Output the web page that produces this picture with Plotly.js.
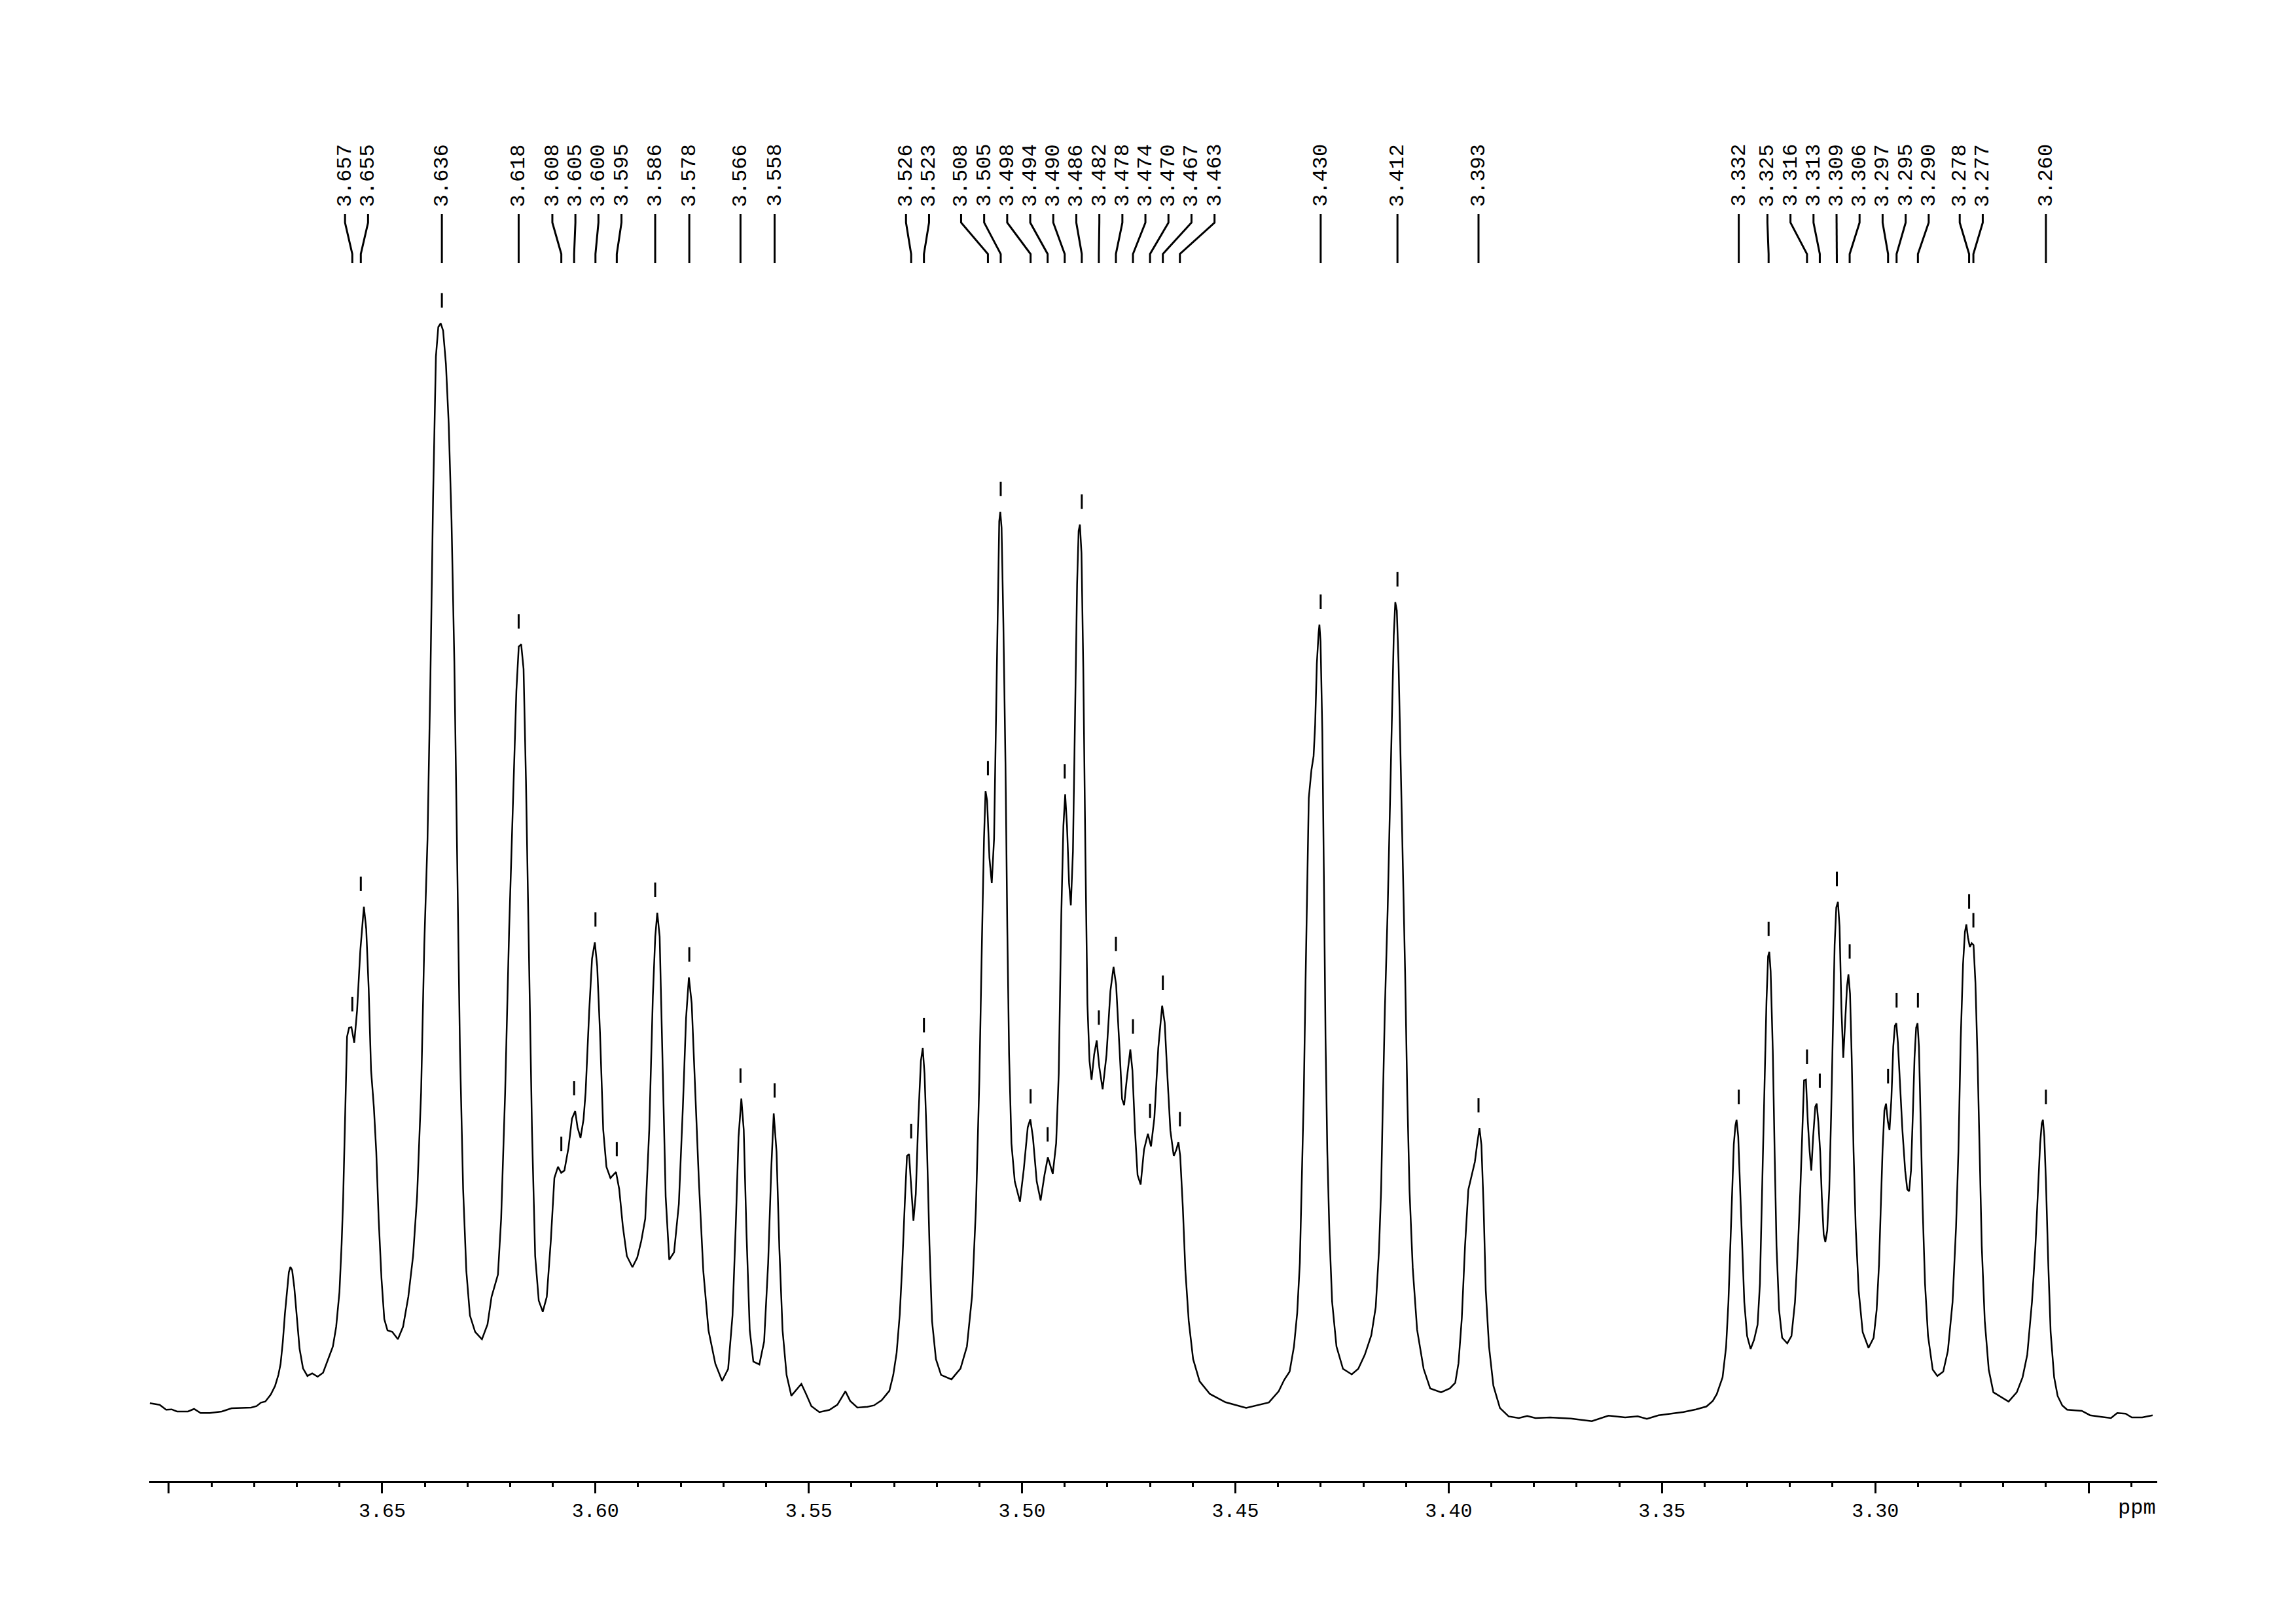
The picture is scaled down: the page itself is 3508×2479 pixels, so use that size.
<!DOCTYPE html>
<html><head><meta charset="utf-8">
<script src="https://cdn.plot.ly/plotly-3.0.1.min.js"></script>
<style>body{margin:0;background:#fff}</style>
</head><body><div id="chart" style="width:3508px;height:2479px"></div>
<script>
// ---- data ----
const ppm = [
3.70446,3.70216,3.70063,3.69935,3.69808,3.69552,3.69409,3.69256,3.69041,3.68760,3.68530,3.68071,3.67943,3.67841,3.67738,3.67611,3.67509,3.67432,3.67381,3.67329,3.67279,3.67228,3.67187,3.67151,3.67110,3.67059,3.66998,3.66936,3.66855,3.66752,3.66640,3.66512,3.66385,3.66257,3.66155,3.66078,3.66001,3.65950,3.65915,
3.65823,3.65776,3.65720,3.65654,3.65588,3.65513,3.65428,3.65373,3.65316,3.65260,3.65194,3.65138,3.65082,3.65016,3.64950,3.64875,3.64763,3.64631,3.64509,3.64387,3.64275,3.64181,3.64087,3.64012,3.63937,3.63871,3.63806,3.63740,3.63684,3.63627,3.63571,3.63505,3.63440,3.63374,3.63308,3.63243,3.63177,3.63102,3.63027,3.62942,3.62820,3.62661,3.62530,3.62436,3.62361,3.62286,3.62211,3.62117,3.62023,3.61929,3.61854,3.61798,3.61741,3.61685,3.61629,3.61563,3.61488,3.61413,3.61329,3.61235,3.61141,3.61047,3.60963,3.60878,3.60803,3.60728,3.60634,3.60550,3.60475,3.60420,3.60350,3.60280,3.60231,3.60146,3.60080,3.60015,3.59959,3.59893,3.59818,3.59743,3.59649,3.59518,3.59443,3.59358,3.59264,3.59133,3.59020,3.58927,3.58833,3.58739,3.58654,3.58598,3.58551,3.58495,3.58429,3.58354,3.58270,3.58157,3.58045,3.57951,3.57876,3.57810,3.57744,3.57669,3.57575,3.57472,3.57350,3.57190,3.57031,3.56890,3.56787,3.56712,3.56646,3.56580,3.56524,3.56459,3.56383,3.56299,3.56158,3.56046,3.55952,3.55877,3.55821,3.55755,3.55689,3.55614,3.55520,3.55408,3.55295,3.55173,3.55061,3.54939,3.54751,3.54516,3.54329,3.54141,3.54028,3.53859,3.53625,
3.53473,3.53292,3.53110,3.53019,3.52940,3.52867,3.52807,3.52746,3.52698,3.52649,3.52601,3.52546,3.52491,3.52431,3.52371,3.52328,3.52286,3.52231,3.52170,3.52110,3.52019,3.51898,3.51655,3.51443,3.51292,3.51171,3.51080,3.51001,3.50940,3.50892,3.50856,3.50819,3.50765,3.50710,3.50656,3.50613,3.50571,3.50535,3.50510,3.50480,3.50438,3.50389,3.50346,3.50304,3.50249,3.50171,3.50049,3.49958,3.49867,3.49807,3.49746,3.49656,3.49565,3.49474,3.49395,3.49341,3.49280,3.49201,3.49140,3.49080,3.49031,3.48989,3.48946,3.48898,3.48856,3.48807,3.48759,3.48710,3.48674,3.48644,3.48607,3.48565,3.48516,3.48468,3.48419,3.48371,3.48310,3.48250,3.48189,3.48111,3.48020,3.47929,3.47856,3.47795,3.47716,3.47656,3.47607,3.47547,3.47462,3.47413,3.47353,3.47292,3.47220,3.47141,3.47050,3.46977,3.46898,3.46807,3.46716,3.46656,3.46596,3.46523,3.46444,3.46383,3.46335,3.46293,3.46232,3.46172,3.46093,3.45990,3.45838,3.45596,3.45232,3.44747,
3.44214,3.43984,3.43856,3.43728,3.43626,3.43550,3.43488,3.43437,3.43396,3.43355,3.43320,3.43279,3.43217,3.43166,3.43130,3.43090,3.43049,3.43029,3.43003,3.42962,3.42926,3.42886,3.42845,3.42794,3.42732,3.42630,3.42477,3.42272,3.42119,3.41966,3.41813,3.41710,3.41634,3.41583,3.41547,3.41496,3.41430,3.41378,3.41327,3.41287,3.41251,3.41215,3.41174,3.41123,3.41072,3.41021,3.40970,3.40918,3.40842,3.40740,3.40587,3.40433,3.40178,3.39973,3.39846,3.39769,3.39692,3.39616,3.39539,3.39462,3.39385,3.39335,3.39278,3.39232,3.39181,3.39130,3.39054,3.38952,3.38798,3.38594,
3.38355,3.38159,3.37964,3.37621,3.37133,3.36644,3.36253,3.35862,3.35569,3.35354,3.35080,3.34787,3.34494,3.34201,3.33956,3.33810,
3.33715,3.33579,3.33497,3.33442,3.33398,3.33360,3.33316,3.33278,3.33251,3.33212,3.33169,3.33125,3.33070,3.33004,3.32922,3.32840,3.32758,3.32703,3.32649,3.32594,3.32550,3.32512,3.32484,3.32452,3.32402,3.32359,3.32315,3.32255,3.32183,3.32063,3.31964,3.31882,3.31811,3.31756,3.31707,3.31669,3.31625,3.31581,3.31538,3.31499,3.31456,3.31406,3.31373,3.31335,3.31291,3.31253,3.31209,3.31170,3.31126,3.31078,3.31034,3.30990,3.30952,3.30914,3.30875,3.30837,3.30793,3.30750,3.30706,3.30662,3.30629,3.30591,3.30552,3.30508,3.30459,3.30388,3.30295,3.30158,3.30038,3.29967,3.29912,3.29868,3.29830,3.29786,3.29748,3.29704,3.29666,3.29622,3.29578,3.29540,3.29507,3.29469,3.29419,3.29365,3.29299,3.29250,3.29206,3.29162,3.29119,3.29080,3.29042,3.29009,3.28976,3.28938,3.28889,3.28834,3.28763,3.28653,3.28544,3.28407,3.28298,3.28188,3.28106,3.28051,3.27997,3.27942,3.27898,3.27865,3.27827,3.27783,3.27739,3.27696,3.27652,3.27603,3.27559,3.27504,3.27433,3.27340,3.27231,3.27066,3.26875,3.26683,3.26546,3.26437,3.26327,3.26245,3.26190,3.26136,3.26097,3.26070,3.26037,3.25999,3.25944,3.25889,3.25807,3.25725,3.25616,
3.25502,3.25159,3.24964,3.24720,3.24475,3.24329,3.24133,3.23986,3.23742,3.23498
];
const intensity = [
6.7,4.3,-3.3,-2.7,-6,-6,-2,-8.3,-8.3,-6,-1,0,2.3,7.7,9.3,20,33.3,50,66.7,100,143.3,183.3,206.7,215,210,183.3,136.7,90,60,48.3,52.3,47.3,53.3,76.7,93.3,123.3,176.7,250,316.7,
566.4,580,581.2,557.3,606.2,697,765.1,731,640.2,515.3,458.6,390.5,288.3,197.5,135.1,118,115.7,104.4,123.7,169.1,231.5,322.4,481.3,708.3,867.3,1105.6,1389.4,1605.1,1650.5,1656.2,1644.9,1593.8,1503,1355.4,1139.7,821.8,549.4,333.7,208.8,140.7,115.7,104.4,127.1,169.1,186.1,203.1,288.3,481.3,731,935.4,1094.3,1162.4,1165.8,1128.3,958.1,708.3,424.5,231.5,163.4,146.4,169.1,254.2,350.7,367.8,358.7,362.1,396.1,441.5,452.9,428,412,440,481.3,606.2,685.6,710.6,674.3,572.1,424.5,367.8,350.7,359.8,333.7,276.9,231.5,214.5,229.3,254.2,288.3,424.5,628.9,719.7,756,719.7,538,322.4,225.9,237.2,311,458.6,594.8,657.2,617.5,504,345.1,208.8,118,67,40.8,59,140.7,276.9,413.2,472.2,424.5,265.6,118,70.3,65.8,101,220.2,367.8,449.5,390.5,242.9,118,49.9,18.1,27.2,36.3,20.4,2.2,-6.9,-3.5,4.4,24.9,10.1,0,1.2,
3.3,11.1,25.6,49.9,83.8,142,219.5,316.5,384.3,387.2,335.8,285.4,326.2,442.5,529.7,549.1,510.3,403.7,248.6,132.3,74.1,49.9,43.1,59.6,93.5,171,306.8,500.6,713.9,869,941.7,927.1,839.9,801.1,869,1033.8,1227.7,1353.7,1368.2,1344,1198.6,985.3,733.3,539.4,403.7,345.5,314.5,364.9,427.9,440.5,413.4,345.5,316.5,355.2,382.4,369.8,357.2,403.7,510.3,752.7,888.4,936.8,888.4,801.1,767.2,849.6,1053.2,1256.7,1339.1,1348.8,1305.2,1130.7,849.6,616.9,529.7,500.6,539.4,560.7,520.1,486.1,539.4,636.4,673.2,646,549.1,471.6,461.9,500.6,547.2,515.2,423.1,355.2,340.7,394,418.2,398.8,442.5,549.1,614,587.9,510.3,423.1,384.3,394,405.6,384.3,306.8,209.8,132.3,74.1,40.2,20.8,8.2,-0.5,
7.9,25,42.2,55,93.4,144.7,221.6,349.8,478,649,777.2,931,973.8,995.1,1042.1,1136.2,1183.2,1196,1170.3,1033.6,819.9,563.5,392.6,264.4,161.8,93.4,59.2,50.7,59.2,80.6,110.5,153.3,238.7,332.7,452.4,606.2,760.1,905.4,1076.3,1178.9,1230.2,1217.4,1136.2,982.3,819.9,666.1,478,332.7,213.1,119.1,59.2,29.3,23.3,29.3,37.9,67.8,136.2,247.3,332.7,354.1,375.5,401.1,426.8,401.1,307.1,178.9,93.4,33.6,-0.6,-13.4,
-16,-12.7,-16,-15,-16.7,-20.7,-12.3,-15,-13.3,-17.3,-11.7,-9.3,-6.7,-2.7,1.7,10,
20.6,46.4,92.3,161.2,247.3,333.4,402.3,431,439.6,413.8,333.4,247.3,161.2,109.5,89.5,103.8,126.8,189.9,333.4,505.6,620.4,689.3,696.2,666.3,545.8,390.8,247.3,149.7,106.7,98.1,109.5,161.2,247.3,333.4,431,499.9,501,436.7,390.8,362.1,413.8,459.7,464.3,436.7,390.8,321.9,264.5,253,270.3,333.4,448.2,591.7,706.5,763.9,772.5,735.2,608.9,534.3,585.9,643.4,661.7,631.9,534.3,390.8,276,178.4,115.3,91.2,106.7,149.7,218.6,304.7,390.8,453.9,464.3,436.7,424.1,471.2,551.5,583.1,587.1,557.3,494.1,425.2,362.1,333.4,330.5,362.1,448.2,534.3,580.2,587.1,551.5,448.2,304.7,189.9,109.5,57.9,48.3,55,86.6,161.2,276,390.8,563,677.8,726.6,738.1,718,703.6,709.4,706.5,649.1,534.3,390.8,247.3,132.5,57.9,23.4,16.6,9.1,23.4,46.4,80.8,161.2,247.3,333.4,402.3,433.9,439.6,413.8,344.9,218.6,115.3,46.4,17.8,3.3,
-3.3,-5,-11.7,-14,-16,-8.3,-9.3,-15,-15,-11.7
];
const peakLabels = ["3.657","3.655","3.636","3.618","3.608","3.605","3.600","3.595","3.586","3.578","3.566","3.558",
"3.526","3.523","3.508","3.505","3.498","3.494","3.490","3.486","3.482","3.478","3.474","3.470","3.467","3.463",
"3.430","3.412","3.393",
"3.332","3.325","3.316","3.313","3.309","3.306","3.297","3.295","3.290","3.278","3.277","3.260"];
const tickValues = [3.70,3.65,3.60,3.55,3.50,3.45,3.40,3.35,3.30,3.25];
const tickLabels = ["","3.65","3.60","3.55","3.50","3.45","3.40","3.35","3.30",""];
const axisUnit = "ppm";

// ---- geometry helpers ----
const W = 3508, H = 2479;
const M = {l: 228, r: 212, t: 200, b: 217};
const xRange = [3.7046, 3.2339];
const yRange = [-112, 1950];
const plotW = W - M.l - M.r, plotH = H - M.t - M.b;
const pxPerPpm = plotW / (xRange[0] - xRange[1]);
const pxPerUnit = plotH / (yRange[1] - yRange[0]);
const ppmToPx = v => M.l + (xRange[0] - v) * pxPerPpm;
const pxToPpm = p => xRange[0] - (p - M.l) / pxPerPpm;
const pyToY = py => yRange[0] + (M.t + plotH - py) / pxPerUnit;

// ---- spread peak labels (cluster & centre) ----
const peakVals = peakLabels.map(Number);
const peakPx = peakVals.map(ppmToPx);
const SP = 35.2;
let clusters = peakPx.map((p, i) => ({idx: [i], c: p}));
let changed = true;
while (changed) {
  changed = false;
  for (let k = 0; k < clusters.length - 1; k++) {
    const a = clusters[k], b = clusters[k + 1];
    const aEnd = a.c + (a.idx.length - 1) / 2 * SP;
    const bStart = b.c - (b.idx.length - 1) / 2 * SP;
    if (bStart - aEnd < SP - 0.01) {
      const idx = a.idx.concat(b.idx);
      const c = idx.reduce((s, i) => s + peakPx[i], 0) / idx.length;
      clusters.splice(k, 2, {idx, c});
      changed = true;
      break;
    }
  }
}
const labelPx = [];
clusters.forEach(cl => cl.idx.forEach((i, j) => { labelPx[i] = cl.c + (j - (cl.idx.length - 1) / 2) * SP; }));

// peak tops from the traced spectrum
const peakTop = peakVals.map(v => {
  let m = -Infinity;
  ppm.forEach((p, i) => { if (Math.abs(p - v) <= 0.0008 && intensity[i] > m) m = intensity[i]; });
  return m;
});

const connX = [], connY = [], tickX = [], tickY = [];
peakVals.forEach((v, i) => {
  const lx = pxToPpm(labelPx[i]);
  connX.push(lx, lx, v, v, null);
  connY.push(pyToY(327), pyToY(340), pyToY(388), pyToY(402), null);
  tickX.push(v, v, null);
  tickY.push(peakTop[i] + 24, peakTop[i] + 46, null);
});

const traces = [
  {x: ppm, y: intensity, type: 'scatter', mode: 'lines', line: {color: '#000', width: 2.5}, hoverinfo: 'skip'},
  {x: connX, y: connY, type: 'scatter', mode: 'lines', line: {color: '#000', width: 3}, cliponaxis: false, hoverinfo: 'skip'},
  {x: tickX, y: tickY, type: 'scatter', mode: 'lines', line: {color: '#000', width: 3}, cliponaxis: false, hoverinfo: 'skip'}
];

const monoFont = 'Liberation Mono, DejaVu Sans Mono, monospace';
const annotations = peakLabels.map((t, i) => ({
  x: pxToPpm(labelPx[i]), y: pyToY(318), xref: 'x', yref: 'y',
  text: t, textangle: -90, showarrow: false, xanchor: 'center', yanchor: 'bottom',
  font: {family: monoFont, size: 32, color: '#000'}
}));
annotations.push({
  x: 1, xref: 'paper', xanchor: 'right', y: (M.t + plotH - 2303) / plotH, yref: 'paper', yanchor: 'middle',
  text: axisUnit, showarrow: false,
  font: {family: monoFont, size: 32, color: '#000'}
});

const layout = {
  width: W, height: H,
  margin: M,
  paper_bgcolor: '#fff', plot_bgcolor: '#fff',
  showlegend: false,
  xaxis: {
    range: xRange, showline: true, linecolor: '#000', linewidth: 3,
    showgrid: false, zeroline: false,
    ticks: 'outside', ticklen: 16, tickwidth: 3, tickcolor: '#000',
    tickmode: 'array', tickvals: tickValues, ticktext: tickLabels,
    tickfont: {family: monoFont, size: 30, color: '#000'},
    minor: {dtick: 0.01, tick0: 3.7, ticks: 'outside', ticklen: 6, tickwidth: 3, tickcolor: '#000', showgrid: false},
    fixedrange: true
  },
  yaxis: {range: yRange, visible: false, showgrid: false, zeroline: false, fixedrange: true},
  annotations: annotations
};

Plotly.newPlot('chart', traces, layout, {staticPlot: true, displayModeBar: false});
</script>
</body></html>
